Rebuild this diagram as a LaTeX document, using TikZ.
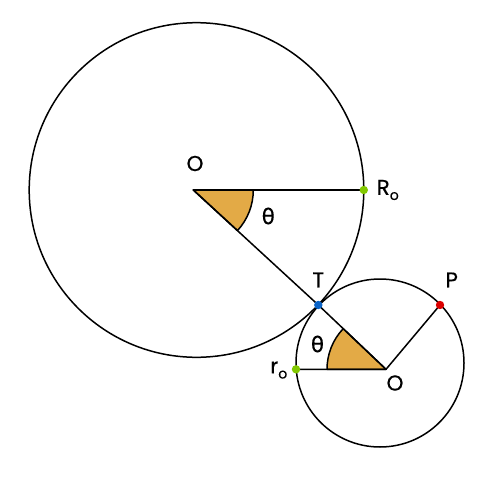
\documentclass[tikz,border=0pt]{standalone}
\usepackage{fontspec}
\setmainfont[FakeBold=0.4]{Poppins}
\newfontfamily\greekfont[FakeBold=0.4]{DejaVu Sans}
\definecolor{wedgeorange}{HTML}{E3AA46}
\definecolor{dotgreen}{HTML}{82C800}
\definecolor{dotblue}{HTML}{0A64C8}
\definecolor{dotred}{HTML}{DC0000}
\tikzset{
  lbl/.style={inner sep=0pt,font=\fontsize{21.5}{24}\selectfont},
  wedge/.style={fill=wedgeorange,draw=black,line width=1.5pt},
}
\newcommand{\subo}{\raisebox{-5pt}{\fontsize{14}{14}\selectfont o}}
\begin{document}
\begin{tikzpicture}[x=1pt,y=-1pt,line join=round,line cap=round,line width=1.5pt]
			\useasboundingbox (0,0) rectangle (500,500);
			\def\bigr{167.3} \def\smallr{84}
			\coordinate (Obig) at (193.3,190);
			\coordinate (Ro) at (363.8,190);
			\coordinate (T) at (318.3,305);
			\coordinate (Osmall) at (386,369.3);
			\coordinate (ro) at (296,369.3);
			\coordinate (P) at (440,305);
			% circles
			\draw (196.5,190) circle[radius=\bigr];
			\draw (380,363) circle[radius=\smallr];
			% angle wedges
			\draw[wedge] (Obig) -- ++(60,0) arc[start angle=0,end angle=42.6,radius=60] -- cycle;
			\draw[wedge] (Osmall) -- ++(-59,0) arc[start angle=180,end angle=223.5,radius=59] -- cycle;
			\draw (Obig) -- (Ro);
			\draw (Obig) -- (T) -- (Osmall);
			\draw (ro) -- (Osmall) -- (P);
			% points
			\fill[dotgreen] (Ro) circle[radius=4.2];
			\fill[dotgreen] (ro) circle[radius=4.2];
			\fill[dotblue] (T) circle[radius=4.2];
			\fill[dotred] (P) circle[radius=4.2];
			% labels
			\node[lbl] (labObig) at (195,163.5) {O};
			\node[lbl] (labthbig) at (268.3,216) {\greekfont θ};
			\node[lbl,anchor=west] (labRo) at (376,190) {R\subo};
			\node[lbl] (labT) at (318.3,280) {T};
			\node[lbl] (labP) at (451.7,280) {P};
			\node[lbl] (labthsmall) at (317.5,344) {\greekfont θ};
			\node[lbl,anchor=east] (labro) at (288,370) {r\subo};
			\node[lbl] (labOsmall) at (395,383) {O};
\end{tikzpicture}
\end{document}
